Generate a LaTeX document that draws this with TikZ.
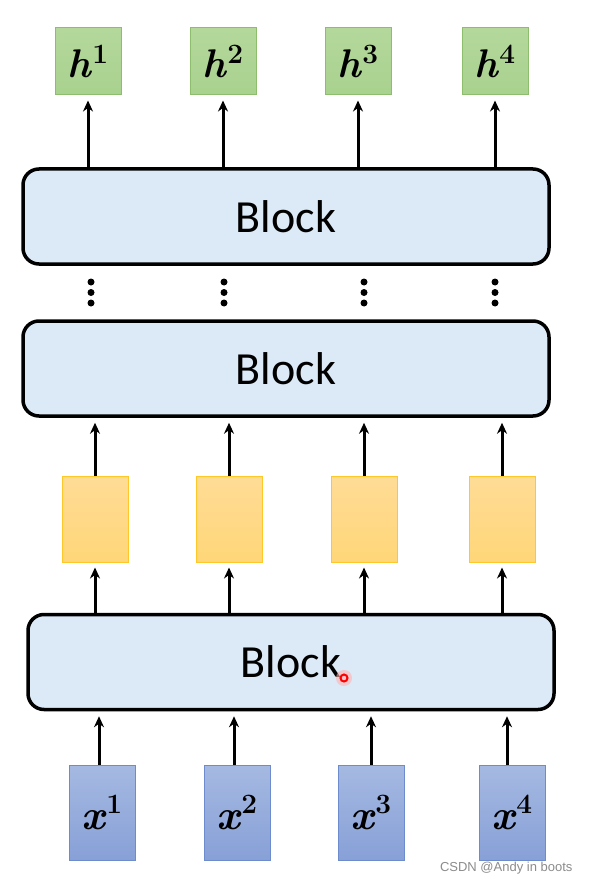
\documentclass[tikz,border=0pt]{standalone}
\usepackage{fontspec}
\newfontfamily\blockfont{Carlito}
\newfontfamily\wmfont{Liberation Sans}
\newfontfamily\labfont{Latin Modern Roman}
\usetikzlibrary{arrows.meta}
\definecolor{hfill}{RGB}{169,209,142}
\definecolor{hfilltop}{RGB}{180,216,156}
\definecolor{hdraw}{RGB}{140,190,110}
\definecolor{ofilltop}{RGB}{255,220,150}
\definecolor{ofillbot}{RGB}{255,214,120}
\definecolor{odraw}{RGB}{255,200,40}
\definecolor{xfilltop}{RGB}{165,185,225}
\definecolor{xfillbot}{RGB}{135,160,215}
\definecolor{xdraw}{RGB}{110,140,205}
\definecolor{blockfill}{RGB}{220,233,246}
\newcommand\lab[2]{{\labfont\bfseries\itshape #1}\kern1pt\raisebox{0.36em}{\labfont\bfseries\fontsize{28}{28}\selectfont #2}}
\tikzset{
  hbox/.style={rectangle, draw=hdraw, line width=1pt, top color=hfilltop, bottom color=hfill,
    minimum width=66pt, minimum height=67pt, inner sep=0pt, font=\fontsize{40}{40}\selectfont},
  obox/.style={rectangle, draw=odraw, line width=1pt, top color=ofilltop, bottom color=ofillbot,
    minimum width=66pt, minimum height=86pt, inner sep=0pt},
  xbox/.style={rectangle, draw=xdraw, line width=1pt, top color=xfilltop, bottom color=xfillbot,
    minimum width=66pt, minimum height=95pt, inner sep=0pt, font=\fontsize{42}{42}\selectfont},
  blockbox/.style={rectangle, rounded corners=16pt, draw=black, line width=3.5pt, fill=blockfill,
    minimum width=526pt, minimum height=95pt, inner sep=0pt, font=\blockfont\fontsize{46}{46}\selectfont},
  arr/.style={-{Stealth[length=11pt,width=10pt]}, line width=3pt, shorten >=5pt},
  vdot/.style={circle, fill=black, inner sep=0pt, minimum size=7pt},
}
\begin{document}
\begin{tikzpicture}[x=1pt,y=-1pt]
\useasboundingbox (0,0) rectangle (590,885);
\fill[white] (0,0) rectangle (590,885);
% output boxes
\node[hbox] (h1) at (88,61.5) {\lab{h}{1}};
\node[hbox] (h2) at (223,61.5) {\lab{h}{2}};
\node[hbox] (h3) at (358,61.5) {\lab{h}{3}};
\node[hbox] (h4) at (495,61.5) {\lab{h}{4}};
% blocks
\node[blockbox] (btop) at (286,216.5) {Block};
\node[blockbox] (bmid) at (286,368.5) {Block};
\node[blockbox] (bbot) at (291,662) {Block};
% dots
\foreach \i/\xx in {1/91,2/224,3/364,4/495}{
  \node[vdot] (da\i) at (\xx,282) {};
  \node[vdot] (db\i) at (\xx,292.5) {};
  \node[vdot] (dc\i) at (\xx,303) {};
}
% orange boxes
\node[obox] (o1) at (95,519) {};
\node[obox] (o2) at (229,519) {};
\node[obox] (o3) at (364,519) {};
\node[obox] (o4) at (502,519) {};
% input boxes
\node[xbox] (x1) at (102,812.5) {\raisebox{-0.3em}{\lab{x}{1}}};
\node[xbox] (x2) at (237,812.5) {\raisebox{-0.3em}{\lab{x}{2}}};
\node[xbox] (x3) at (371,812.5) {\raisebox{-0.3em}{\lab{x}{3}}};
\node[xbox] (x4) at (512,812.5) {\raisebox{-0.3em}{\lab{x}{4}}};
% arrows
\foreach \i in {1,2,3,4}{
  \draw[arr] (btop.north -| h\i.south) -- (h\i.south);
  \draw[arr] (o\i.north) -- (bmid.south -| o\i.north);
  \draw[arr] (bbot.north -| o\i.south) -- (o\i.south);
}
\draw[arr] (x1.north -| 99,0) -- (bbot.south -| 99,0);
\draw[arr] (x2.north -| 234,0) -- (bbot.south -| 234,0);
\draw[arr] (x3.north -| 371,0) -- (bbot.south -| 371,0);
\draw[arr] (x4.north -| 507,0) -- (bbot.south -| 507,0);
% cursor mark
\fill[red!30, opacity=0.6] (344,678) circle (8pt);
\draw[red, line width=2pt] (344,678) circle (3.5pt);
% watermark
\node[font=\wmfont\fontsize{13}{13}\selectfont, text=black!45, anchor=east] (wm) at (576,868) {CSDN @Andy in boots};
\end{tikzpicture}
\end{document}
